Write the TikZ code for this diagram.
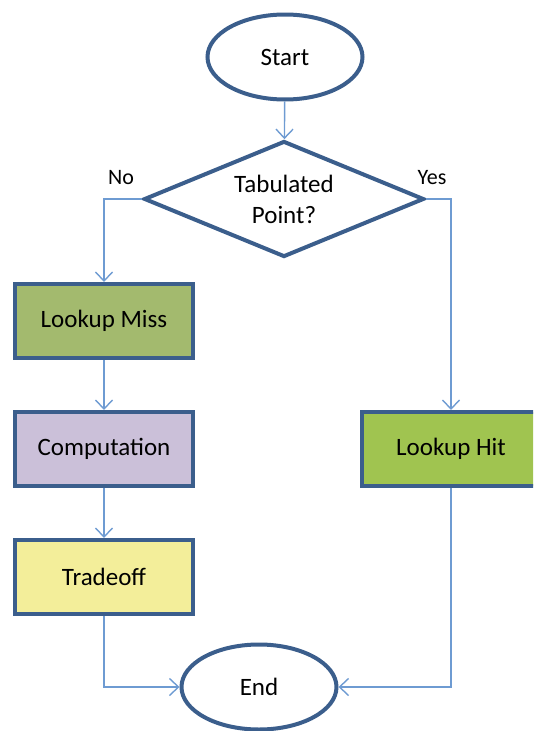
\documentclass[tikz,border=0pt]{standalone}
\usepackage{fontspec}
\setmainfont{Carlito}
\usetikzlibrary{shapes.geometric,arrows.meta}
\definecolor{edgeblue}{HTML}{3B5E8C}
\definecolor{linkblue}{HTML}{6E9BD2}
\definecolor{missgreen}{HTML}{A3BA6E}
\definecolor{hitgreen}{HTML}{A0C450}
\definecolor{complilac}{HTML}{CBC0D9}
\definecolor{tradeyellow}{HTML}{F3EE9A}
\tikzset{
  txt/.style={font=\fontsize{25}{31}\selectfont, text=black},
  terminal/.style={txt, ellipse, draw=edgeblue, line width=4pt, fill=white,
    minimum width=155pt, minimum height=85pt, inner sep=0pt},
  decision/.style={diamond, draw=edgeblue, line width=4pt, fill=white,
    minimum width=280pt, minimum height=116pt, inner sep=0pt},
  procbox/.style={txt, rectangle, draw=edgeblue, line width=4pt,
    minimum width=178pt, minimum height=74pt, inner sep=0pt},
  link/.style={draw=linkblue, line width=1.4pt,
    -{Straight Barb[length=9pt, width=17pt, line width=1.4pt]}},
  tag/.style={font=\fontsize{22}{26}\selectfont, text=black}
}
\begin{document}
\begin{tikzpicture}[x=1pt, y=-1pt]
  \useasboundingbox (0,0) rectangle (533,731);
  \clip (0,0) rectangle (533,731);

  \node[terminal] (start) at (285,57) {Start};
  \node[decision] (test) at (284,199) {};
  \node[txt, align=center] (testtext) at (test.center) {Tabulated\\Point?};
  \node[procbox, fill=missgreen] (miss) at (104,321) {Lookup Miss};
  \node[procbox, fill=complilac] (comp) at (104,449) {Computation};
  \node[procbox, fill=tradeyellow] (trade) at (104,577) {Tradeoff};
  \node[procbox, fill=hitgreen] (hit) at (451,449) {Lookup Hit};
  \node[terminal] (stop) at (259,687) {End};

  \node[tag] (no) at (121,178) {No};
  \node[tag] (yes) at (432,178) {Yes};

  \draw[link] (start) -- (test);
  \draw[link] (test.west) -| (miss.north);
  \draw[link] (test.east) -| (hit.north);
  \draw[link] (miss) -- (comp);
  \draw[link] (comp) -- (trade);
  \draw[link] (trade.south) |- (stop.west);
  \draw[link] (hit.south) |- (stop.east);
\end{tikzpicture}
\end{document}
